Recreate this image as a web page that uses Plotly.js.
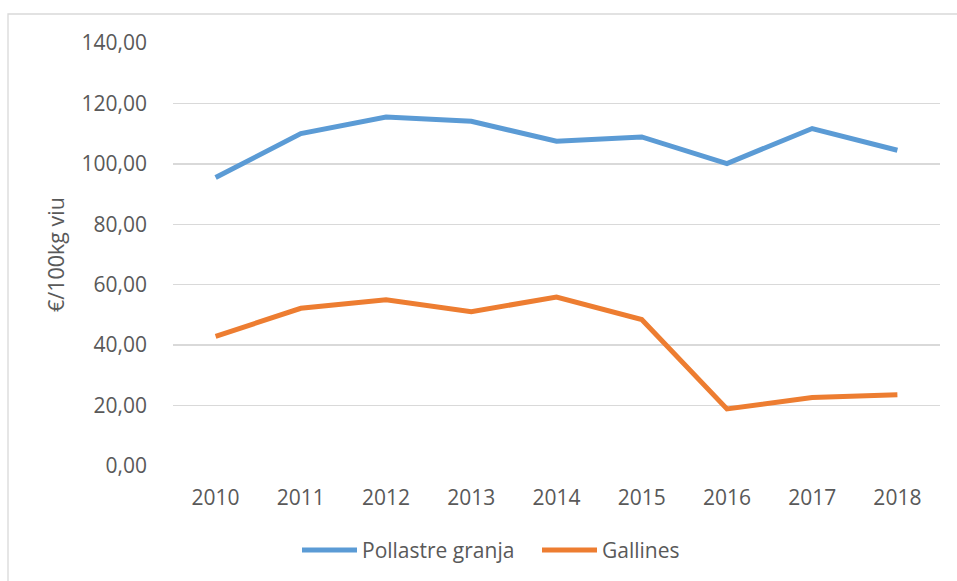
<!DOCTYPE html>
<html>
<head>
<meta charset="utf-8">
<script src="https://cdn.plot.ly/plotly-3.0.1.min.js"></script>
<style>
html,body{margin:0;padding:0;background:#fff;}
#chart{width:957px;height:581px;}
</style>
</head>
<body>
<div id="chart"></div>
<script>
const years = ["2010","2011","2012","2013","2014","2015","2016","2017","2018"];
const pollastreGranja = [95.5, 110.0, 115.5, 114.1, 107.5, 108.9, 100.1, 111.7, 104.5];
const gallines = [42.9, 52.2, 55.0, 51.1, 55.9, 48.5, 18.9, 22.7, 23.6];
const yTickVals = [0, 20, 40, 60, 80, 100, 120, 140];
const yTickText = ["0,00","20,00","40,00","60,00","80,00","100,00","120,00","140,00"];
const seriesNames = ["Pollastre granja", "Gallines"];
const seriesColors = ["#5B9BD5", "#ED7D31"];

const W = 957, H = 581;
const mL = 173, mR = 17, mT = 43, mB = 115;
const pw = W - mL - mR, ph = H - mT - mB;
const fontFam = '"Open Sans", "Liberation Sans", sans-serif';
const txtColor = '#595959';
const px2x = p => (p - mL) / pw;
const px2y = p => (H - mB - p) / ph;

const traces = [
  {x: years, y: pollastreGranja, name: seriesNames[0], type: 'scatter', mode: 'lines',
   line: {color: seriesColors[0], width: 5, shape: 'linear'}},
  {x: years, y: gallines, name: seriesNames[1], type: 'scatter', mode: 'lines',
   line: {color: seriesColors[1], width: 5, shape: 'linear'}}
];

// custom legend (long line samples as in the reference)
const legendStarts = [302, 542];
const legendY = 550;
const shapes = [
  {type: 'rect', xref: 'paper', yref: 'paper',
   x0: px2x(8), x1: px2x(W + 5), y0: px2y(H + 5), y1: px2y(14),
   line: {color: '#D9D9D9', width: 1.3}, fillcolor: 'rgba(0,0,0,0)', layer: 'below'}
];
const annotations = [];
traces.forEach((t, i) => {
  shapes.push({type: 'line', xref: 'paper', yref: 'paper',
    x0: px2x(legendStarts[i]), x1: px2x(legendStarts[i] + 55),
    y0: px2y(legendY), y1: px2y(legendY),
    line: {color: t.line.color, width: 5}});
  annotations.push({xref: 'paper', yref: 'paper', x: px2x(legendStarts[i] + 58), y: px2y(legendY),
    xanchor: 'left', yanchor: 'middle', showarrow: false, text: t.name,
    font: {family: fontFam, size: 21, color: txtColor}});
});

const layout = {
  width: W, height: H,
  margin: {l: mL, r: mR, t: mT, b: mB, pad: 0},
  paper_bgcolor: '#fff', plot_bgcolor: '#fff',
  font: {family: fontFam, color: txtColor, size: 21},
  showlegend: false,
  xaxis: {type: 'category', range: [-0.5, 8.5], showgrid: false, zeroline: false,
          showline: false, ticks: '', ticklabelstandoff: 17,
          tickfont: {size: 21, color: txtColor}},
  yaxis: {range: [0, 140], tickvals: yTickVals, ticktext: yTickText,
          showgrid: true, gridcolor: '#D9D9D9', gridwidth: 1.3, zeroline: false,
          showline: false, ticks: '', ticklabelstandoff: 25,
          tickfont: {size: 21, color: txtColor},
          title: {text: '€/100kg viu', font: {size: 21.5, color: txtColor}, standoff: 10}},
  shapes: shapes,
  annotations: annotations
};

Plotly.newPlot('chart', traces, layout, {displayModeBar: false, staticPlot: true});
</script>
</body>
</html>
